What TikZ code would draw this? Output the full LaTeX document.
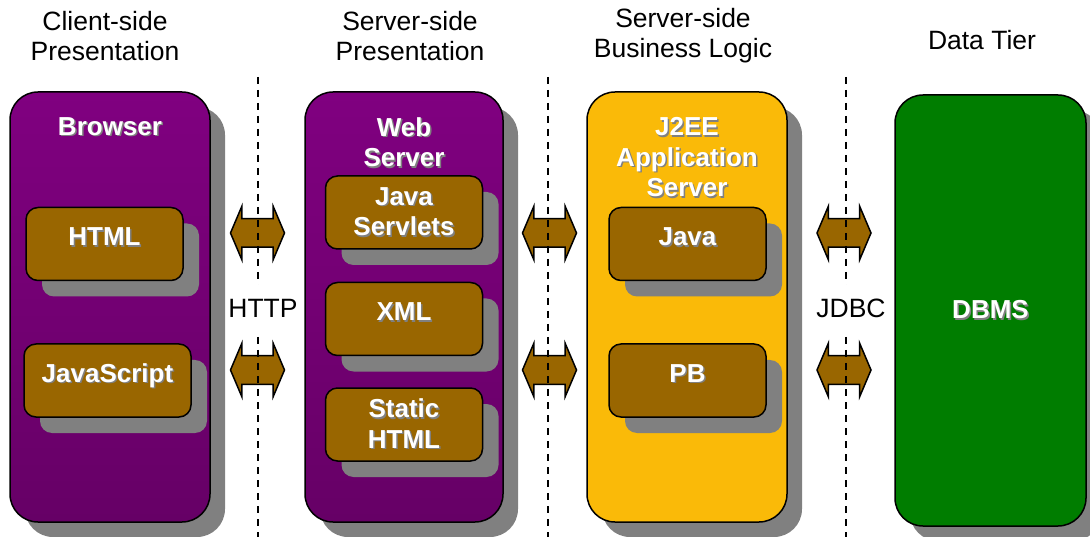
\documentclass[tikz,border=0pt]{standalone}
\usepackage{fontspec}
\setmainfont{Liberation Sans}
\usetikzlibrary{positioning, shapes.arrows, shadows}

\definecolor{tierpurple}{RGB}{128,0,128}
\definecolor{tierpurpledark}{RGB}{102,0,102}
\definecolor{tiergold}{RGB}{250,186,8}
\definecolor{tiergreen}{RGB}{0,125,0}
\definecolor{compbrown}{RGB}{153,102,0}
\definecolor{shadowgray}{RGB}{128,128,128}
\newcommand{\shd}[1]{\rlap{\kern1.5pt\raisebox{-1.5pt}{\textcolor{shadowgray}{#1}}}#1}
\newcommand{\tierfont}{\fontsize{26}{30.5}\selectfont\bfseries}
\newcommand{\headfont}{\fontsize{26.5}{30}\selectfont}

\begin{document}
\begin{tikzpicture}[x=1pt, y=-1pt,
      tier/.style={draw=black, line width=1.5pt, rounded corners=28pt,
        minimum width=200pt, minimum height=430pt, text=white, font=\tierfont,
        drop shadow={shadow xshift=15pt, shadow yshift=-15pt, fill=shadowgray, opacity=1}},
      comp/.style={draw=black, line width=1.5pt, fill=compbrown, rounded corners=12pt,
        minimum width=157pt, minimum height=73pt, text=white, font=\tierfont, align=center,
        drop shadow={shadow xshift=16pt, shadow yshift=-16pt, fill=shadowgray, opacity=1}},
      single/.style={comp, text height=18pt, text depth=14pt},
      title/.style={text=white, font=\tierfont, align=center, inner sep=0pt},
      head/.style={font=\headfont, align=center},
      link/.style={double arrow, draw=black, line width=1.5pt, fill=compbrown,
        double arrow head extend=12.5pt, double arrow tip angle=134,
        minimum height=54pt, minimum width=52pt, inner xsep=0pt, inner ysep=13.5pt},
      tierline/.style={line width=1.3pt, dash pattern=on 7pt off 6pt},
      proto/.style={fill=white, font=\headfont, inner sep=1pt, minimum height=46pt}
    ]
    \useasboundingbox (0,0) rectangle (1090,537);

    % column headings
    \node[head] (clienthead) at (105,36) {Client-side\\Presentation};
    \node[head] (webhead) at (410,36) {Server-side\\Presentation};
    \node[head] (logichead) at (683,36) {Server-side\\Business Logic};
    \node[head] (datahead) at (982,40) {Data Tier};

    % tiers
    \node[tier, top color=tierpurple, bottom color=tierpurpledark] (browser) at (110,307) {};
    \node[tier, minimum width=198pt, top color=tierpurple, bottom color=tierpurpledark] (web) at (404,307) {};
    \node[tier, fill=tiergold] (j2ee) at (687,307) {};
    \node[tier, fill=tiergreen, minimum width=191pt, minimum height=431pt] (dbms) at (990.5,310.5) {\shd{DBMS}};

    \node[title, below=26pt of browser.north] (browsertitle) {\shd{Browser}};
    \node[title, below=26pt of web.north] (webtitle) {\shd{Web}\\\shd{Server}};
    \node[title, below=26pt of j2ee.north] (j2eetitle) {\shd{J2EE}\\\shd{Application}\\\shd{Server}};

    % components
    \node[single] (html) at (104.5,244) {\shd{HTML}};
    \node[single, minimum width=167pt, below=62pt of html, xshift=3pt] (javascript) {\shd{JavaScript}};
    \node[comp] (servlets) at (404,212.5) {\shd{Java}\\\shd{Servlets}};
    \node[single, below=32pt of servlets] (xml) {\shd{XML}};
    \node[comp, below=31pt of xml] (statichtml) {\shd{Static}\\\shd{HTML}};
    \node[single] (java) at (687.5,244) {\shd{Java}};
    \node[single, below=62pt of java] (pb) {\shd{PB}};

    % links between tiers
    \node[link] (httpup) at (257.5,233) {};
    \node[link] (httpdown) at (257.5,370) {};
    \node[link] (appup) at (549.5,233) {};
    \node[link] (appdown) at (549.5,370) {};
    \node[link] (jdbcup) at (844,233) {};
    \node[link] (jdbcdown) at (844,370) {};

    % tier borders
    \coordinate (httptop) at (258,77);
    \coordinate (httpbot) at (258,537);
    \coordinate (apptop) at (548,77);
    \coordinate (appbot) at (548,537);
    \coordinate (jdbctop) at (846,77);
    \coordinate (jdbcbot) at (846,537);
    \draw[tierline] (httptop) -- (httpbot);
    \draw[tierline] (apptop) -- (appbot);
    \draw[tierline] (jdbctop) -- (jdbcbot);
    \node[proto] (http) at (263,308) {HTTP};
    \node[proto] (jdbc) at (851,308) {JDBC};
  \end{tikzpicture}
\end{document}
